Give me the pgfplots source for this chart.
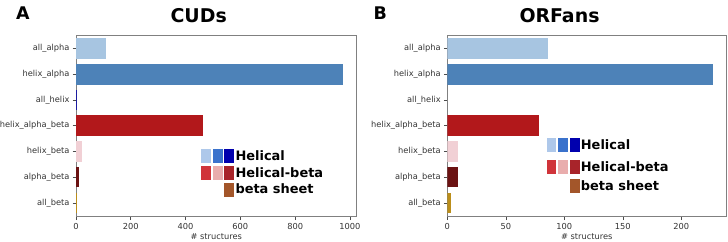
\documentclass[border=0pt]{standalone}
\usepackage{pgfplots}
\pgfplotsset{compat=1.18}
\usepackage{fontspec}
\setmainfont{DejaVu Sans}

\definecolor{allalpha}{HTML}{A7C5E1}
\definecolor{helixalpha}{HTML}{4D82B8}
\definecolor{allhelix}{HTML}{1C1CA0}
\definecolor{helixalphabeta}{HTML}{B2181B}
\definecolor{helixbeta}{HTML}{F1D0D5}
\definecolor{alphabeta}{HTML}{6B1212}
\definecolor{allbeta}{HTML}{BB8E1A}
\definecolor{lgA}{HTML}{AEC8EA}
\definecolor{lgB}{HTML}{3A72CC}
\definecolor{lgC}{HTML}{0000AE}
\definecolor{lgD}{HTML}{D0343A}
\definecolor{lgE}{HTML}{E9ADAD}
\definecolor{lgF}{HTML}{A8242A}
\definecolor{lgG}{HTML}{A3562A}

\pgfplotsset{
  panel/.style={
    scale only axis,
    xbar,
    bar width=0.8,
    bar shift=0pt,
    y dir=reverse,
    ymin=-0.53, ymax=6.53,
    xmin=0,
    ytick={0,...,6},
    yticklabels={all\_alpha,helix\_alpha,all\_helix,helix\_alpha\_beta,helix\_beta,alpha\_beta,all\_beta},
    tick pos=left,
    tick align=outside,
    major tick length=3.5bp,
    tick style={black!70, line width=0.6pt},
    axis line style={black!50, line width=0.8pt},
    ticklabel style={font=\fontsize{8.3}{9}\selectfont, text=black!80},
    yticklabel style={xshift=0.5bp},
    /pgf/number format/assume math mode=true,
    /pgf/number format/1000 sep={},
    scaled x ticks=false,
    xlabel={\# structures},
    xlabel style={font=\fontsize{8.3}{9}\selectfont, text=black!80, yshift=3bp},
    every axis plot/.append style={draw=none},
  }
}

\begin{document}
\begin{tikzpicture}
\useasboundingbox (0bp,0bp) rectangle (728bp,242bp);

% Panel A
\begin{axis}[panel, at={(76bp,25.5bp)}, anchor=south west, width=280.5bp, height=181.5bp,
  xmax=1024, xtick={0,200,400,600,800,1000}]
\addplot[fill=allalpha] coordinates {(110,0)};
\addplot[fill=helixalpha] coordinates {(975,1)};
\addplot[fill=allhelix] coordinates {(3,2)};
\addplot[fill=helixalphabeta] coordinates {(464,3)};
\addplot[fill=helixbeta] coordinates {(21,4)};
\addplot[fill=alphabeta] coordinates {(10,5)};
\addplot[fill=allbeta] coordinates {(1,6)};
\end{axis}

% Panel B
\begin{axis}[panel, at={(447.3bp,25.5bp)}, anchor=south west, width=279bp, height=181.5bp,
  xmax=238.4, xtick={0,50,100,150,200}]
\addplot[fill=allalpha] coordinates {(86,0)};
\addplot[fill=helixalpha] coordinates {(227,1)};
\addplot[fill=allhelix] coordinates {(0,2)};
\addplot[fill=helixalphabeta] coordinates {(78,3)};
\addplot[fill=helixbeta] coordinates {(9,4)};
\addplot[fill=alphabeta] coordinates {(9,5)};
\addplot[fill=allbeta] coordinates {(3.4,6)};
\end{axis}

% Titles and panel letters
\node[font=\bfseries\fontsize{19}{19}\selectfont, anchor=base] at (198.7bp,219.3bp) {CUDs};
\node[font=\bfseries\fontsize{19}{19}\selectfont, anchor=base] at (559.5bp,219.3bp) {ORFans};
\node[font=\bfseries\fontsize{17.5}{17.5}\selectfont, anchor=base west, inner sep=0pt] at (16bp,222.7bp) {A};
\node[font=\bfseries\fontsize{17.5}{17.5}\selectfont, anchor=base west, inner sep=0pt] at (373.5bp,222.7bp) {B};

% Legend A
\fill[lgA] (201bp,79.3bp) rectangle (211bp,93.3bp);
\fill[lgB] (212.7bp,79.3bp) rectangle (222.7bp,93.3bp);
\fill[lgC] (224.3bp,79.3bp) rectangle (234.3bp,93.3bp);
\fill[lgD] (201bp,62bp) rectangle (211bp,76bp);
\fill[lgE] (212.7bp,62bp) rectangle (222.7bp,76bp);
\fill[lgF] (224.3bp,62bp) rectangle (234.3bp,76bp);
\fill[lgG] (224.3bp,45.3bp) rectangle (234.3bp,59.3bp);
\node[font=\bfseries\fontsize{13}{13}\selectfont, anchor=base west, inner sep=0pt] at (235.3bp,81.7bp) {Helical};
\node[font=\bfseries\fontsize{13}{13}\selectfont, anchor=base west, inner sep=0pt] at (235.3bp,64.3bp) {Helical-beta};
\node[font=\bfseries\fontsize{13}{13}\selectfont, anchor=base west, inner sep=0pt] at (235.3bp,48.3bp) {beta sheet};

% Legend B
\fill[lgA] (546.7bp,89.7bp) rectangle (556.3bp,103.7bp);
\fill[lgB] (558.3bp,89.7bp) rectangle (568bp,103.7bp);
\fill[lgC] (570bp,89.7bp) rectangle (579.7bp,103.7bp);
\fill[lgD] (546.7bp,68bp) rectangle (556.3bp,82bp);
\fill[lgE] (558.3bp,68bp) rectangle (568bp,82bp);
\fill[lgF] (570bp,68bp) rectangle (579.7bp,82bp);
\fill[lgG] (570bp,48.7bp) rectangle (579.7bp,62.7bp);
\node[font=\bfseries\fontsize{13}{13}\selectfont, anchor=base west, inner sep=0pt] at (580.7bp,92.2bp) {Helical};
\node[font=\bfseries\fontsize{13}{13}\selectfont, anchor=base west, inner sep=0pt] at (580.7bp,70.5bp) {Helical-beta};
\node[font=\bfseries\fontsize{13}{13}\selectfont, anchor=base west, inner sep=0pt] at (580.7bp,51.5bp) {beta sheet};
\end{tikzpicture}
\end{document}
